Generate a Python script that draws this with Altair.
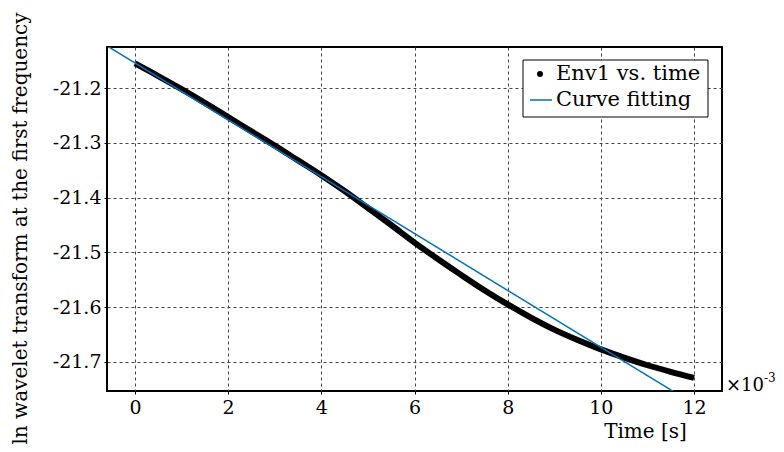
import altair as alt
import pandas as pd

# Data (time in ms, i.e. x 10^-3 s)
env_t = [0, 0.5, 1, 1.5, 2, 2.5, 3, 3.5, 4, 4.5, 5, 5.5, 6, 6.5, 7, 7.5, 8, 8.5, 9, 9.5, 10, 10.5, 11, 11.5, 12]
env_v = [-21.155, -21.178, -21.202, -21.227, -21.253, -21.279, -21.305, -21.332, -21.359, -21.388,
         -21.419, -21.450, -21.482, -21.512, -21.541, -21.569, -21.595, -21.619, -21.641, -21.660,
         -21.677, -21.692, -21.706, -21.718, -21.729]
fit_t = [-0.6, 12.6]
fit_v = [-21.123, -21.808]
x_ticks = [0, 2, 4, 6, 8, 10, 12]
y_ticks = [-21.7, -21.6, -21.5, -21.4, -21.3, -21.2]
legend_labels = ["Env1 vs. time", "Curve fitting"]

FONT = "DejaVu Serif"
BLUE = "#0072BD"

env_df = pd.DataFrame({"t": env_t, "v": env_v})
fit_df = pd.DataFrame({"t": fit_t, "v": fit_v})

xscale = alt.Scale(domain=[-0.6, 12.6], nice=False, zero=False)
yscale = alt.Scale(domain=[-21.753, -21.125], nice=False, zero=False)

xaxis = alt.Axis(values=x_ticks, title="Time [s]", format="d",
                 titleX=538, titleY=40, titleAlign="center", titleBaseline="middle",
                 titleFontSize=20, labelPadding=4)
yaxis = alt.Axis(values=y_ticks, title="ln wavelet transform at the first frequency",
                 labelExpr="'-' + format(abs(datum.value), '.1f')",
                 titleX=-87, titleY=181, titleAlign="center", titleBaseline="middle",
                 titleFontSize=20, labelPadding=3)

env = alt.Chart(env_df).mark_line(color="black", strokeWidth=6, strokeCap="butt",
                                  interpolate="monotone", clip=True).encode(
    x=alt.X("t:Q", scale=xscale, axis=xaxis),
    y=alt.Y("v:Q", scale=yscale, axis=yaxis),
)

fit = alt.Chart(fit_df).mark_line(color=BLUE, strokeWidth=1.5, clip=True).encode(
    x=alt.X("t:Q", scale=xscale),
    y=alt.Y("v:Q", scale=yscale),
)

one = pd.DataFrame({"a": [1]})

legend_box = alt.Chart(one).mark_rect(fill="white", stroke="black", strokeWidth=1).encode(
    x=alt.value(416), x2=alt.value(601), y=alt.value(13), y2=alt.value(70))
legend_dot = alt.Chart(one).mark_point(filled=True, color="black", size=36, opacity=1).encode(
    x=alt.value(433), y=alt.value(27))
legend_line = alt.Chart(one).mark_rule(color=BLUE, strokeWidth=1.5).encode(
    x=alt.value(423), x2=alt.value(445), y=alt.value(53))
legend_text = alt.Chart(pd.DataFrame({"label": legend_labels, "y": [27, 53]})).mark_text(
    font=FONT, fontSize=21, align="left", baseline="middle", color="black").encode(
    x=alt.value(449), y=alt.Y("y:Q", scale=None), text="label:N")

exp_base = alt.Chart(pd.DataFrame({"s": ["\u00d710"]})).mark_text(
    font=FONT, fontSize=18, align="left", baseline="middle", color="black").encode(
    x=alt.value(619), y=alt.value(339), text="s:N")
exp_sup = alt.Chart(pd.DataFrame({"s": ["-3"]})).mark_text(
    font=FONT, fontSize=12, align="left", baseline="middle", color="black").encode(
    x=alt.value(657), y=alt.value(331), text="s:N")

chart = alt.layer(env, fit, legend_box, legend_dot, legend_line, legend_text, exp_base, exp_sup).properties(
    width=615, height=344,
    background="white",
    autosize=alt.AutoSizeParams(type="none"),
    padding={"left": 99, "top": 39, "right": 54, "bottom": 53},
).configure_view(
    stroke="black", strokeWidth=2
).configure_axis(
    labelFont=FONT, labelFontSize=19, labelColor="black",
    titleFont=FONT, titleFontSize=19, titleFontWeight="normal", titleColor="black",
    grid=True, gridColor="#444444", gridDash=[3, 3], gridWidth=1, gridOpacity=1,
    domain=False, tickColor="black", tickSize=3,
)

chart.save("out.html", embed_options={"renderer": "svg", "actions": False})
